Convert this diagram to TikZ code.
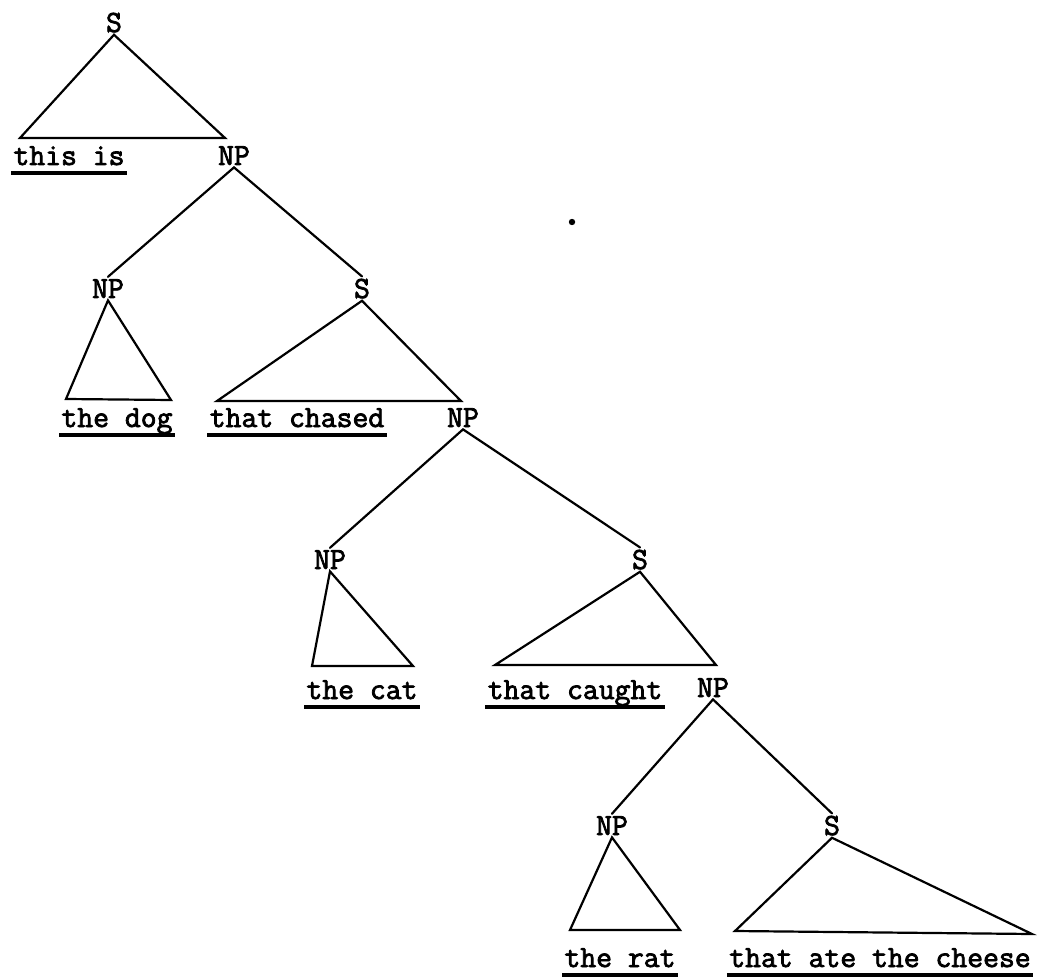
\documentclass[tikz,border=0pt]{standalone}
\usepackage{fontspec}
\newfontfamily\tw{Latin Modern Mono}[FakeBold=2.5]
\begin{document}
\begin{tikzpicture}[x=0.5pt,y=-0.5pt,
  lbl/.style={anchor=base,inner sep=1pt,font=\tw\fontsize{15.4}{17}\selectfont},
  edge/.style={line width=1.1pt,line cap=round},
  ul/.style={line width=2pt}]
\useasboundingbox (0,0) rectangle (1043,978);
% labels
\node[lbl] (S1) at (114,32) {S};
\node[lbl] (this) at (69,165) {this is};
\node[lbl] (NP1) at (234,165) {NP};
\node[lbl] (NP2) at (108,298) {NP};
\node[lbl] (S2) at (362,298) {S};
\node[lbl] (dog) at (117,427) {the dog};
\node[lbl] (chased) at (297,427) {that chased};
\node[lbl] (NP3) at (463,427) {NP};
\node[lbl] (NP4) at (330,569) {NP};
\node[lbl] (S4) at (640,569) {S};
\node[lbl] (cat) at (362,699) {the cat};
\node[lbl] (caught) at (575,699) {that caught};
\node[lbl] (NP5) at (713,697) {NP};
\node[lbl] (NP6) at (612,835) {NP};
\node[lbl] (S3) at (832,835) {S};
\node[lbl] (rat) at (620,967) {the rat};
\node[lbl] (cheese) at (880,967) {that ate the cheese};
% triangle corners
\coordinate (a1) at (20,138); \coordinate (a2) at (225,138);
\coordinate (b1) at (66,399); \coordinate (b2) at (171,400);
\coordinate (c1) at (217,401); \coordinate (c2) at (461,401);
\coordinate (d1) at (312,666); \coordinate (d2) at (413,666);
\coordinate (e1) at (495,665); \coordinate (e2) at (716,665);
\coordinate (f1) at (570,930); \coordinate (f2) at (680,930);
\coordinate (g1) at (735,931); \coordinate (g2) at (1032,934);
% edges
\draw[edge] (a1) -- (S1.south) -- (a2) -- cycle;
\draw[edge] (NP2.north) -- (NP1.south) -- (S2.north);
\draw[edge] (b1) -- (NP2.south) -- (b2) -- cycle;
\draw[edge] (c1) -- (S2.south) -- (c2) -- cycle;
\draw[edge] (NP4.north) -- (NP3.south) -- (S4.north);
\draw[edge] (d1) -- (NP4.south) -- (d2) -- cycle;
\draw[edge] (e1) -- (S4.south) -- (e2) -- cycle;
\draw[edge] (NP6.north) -- (NP5.south) -- (S3.north);
\draw[edge] (f1) -- (NP6.south) -- (f2) -- cycle;
\draw[edge] (g1) -- (S3.south) -- (g2) -- cycle;
% underlines
\foreach \n in {this,dog,chased,cat,caught,rat,cheese}{
  \draw[ul] ([yshift=-3.8pt]\n.base west) -- ([yshift=-3.8pt]\n.base east);
}
% stray dot
\fill (572,222) circle (1.6pt);
\end{tikzpicture}
\end{document}
